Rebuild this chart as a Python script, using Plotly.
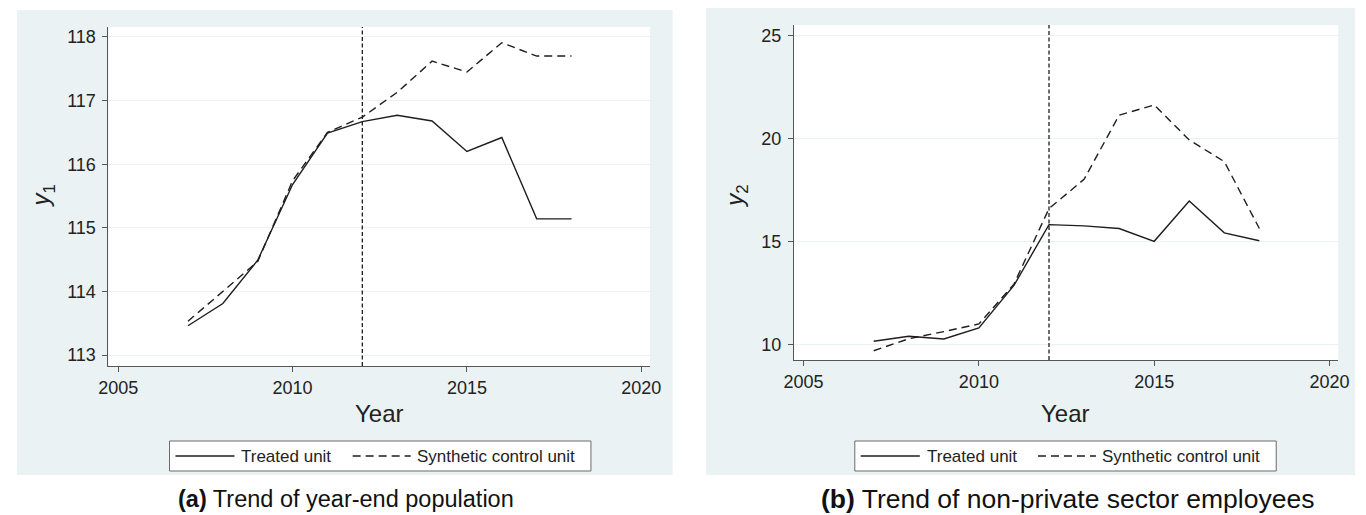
import plotly.graph_objects as go

# Data: synthetic control comparison (treatment year 2012)
years = [2007, 2008, 2009, 2010, 2011, 2012, 2013, 2014, 2015, 2016, 2017, 2018]
y1_treated = [113.46, 113.81, 114.49, 115.68, 116.49, 116.67, 116.77, 116.68, 116.20, 116.42, 115.14, 115.14]
y1_synth = [113.53, 114.00, 114.47, 115.74, 116.50, 116.74, 117.13, 117.62, 117.45, 117.91, 117.70, 117.70]
y2_treated = [10.18, 10.42, 10.29, 10.83, 12.89, 15.84, 15.78, 15.65, 15.03, 16.99, 15.44, 15.06]
y2_synth = [9.72, 10.30, 10.65, 11.02, 12.95, 16.62, 18.04, 21.15, 21.65, 19.95, 18.90, 15.65]
treat_year = 2012
x_ticks = [2005, 2010, 2015, 2020]
y1_ticks = [113, 114, 115, 116, 117, 118]
y2_ticks = [10, 15, 20, 25]
legend_labels = ["Treated unit", "Synthetic control unit"]
captions = [("(a)", "Trend of year-end population"), ("(b)", "Trend of non-private sector employees")]

W, H = 1366, 515
FONT = "Liberation Sans, Arial, sans-serif"
BG = "#eaf2f3"
INK = "#1e1e1e"
TXT = "#222222"
DASH_SYN = "8px,5px"
DASH_VLINE = "4px,2.5px"


def px(x):
    return x / W


def py(y):
    return 1 - y / H


fig = go.Figure()

panels = [
    dict(xa="x", ya="y", treated=y1_treated, synth=y1_synth),
    dict(xa="x2", ya="y2", treated=y2_treated, synth=y2_synth),
]
for p in panels:
    fig.add_trace(go.Scatter(x=years, y=p["treated"], mode="lines", xaxis=p["xa"], yaxis=p["ya"],
                             line=dict(color=INK, width=1.4), showlegend=False, name=legend_labels[0]))
    fig.add_trace(go.Scatter(x=years, y=p["synth"], mode="lines", xaxis=p["xa"], yaxis=p["ya"],
                             line=dict(color=INK, width=1.4, dash=DASH_SYN), showlegend=False,
                             name=legend_labels[1]))

axis_common = dict(
    showline=True, linecolor="#555555", linewidth=1, ticks="outside", ticklen=5, tickcolor="#555555",
    tickwidth=1, tickfont=dict(family=FONT, size=18, color=TXT), zeroline=False, mirror=False,
)

fig.update_layout(
    width=W, height=H, margin=dict(l=0, r=0, t=0, b=0),
    paper_bgcolor="white", plot_bgcolor="rgba(0,0,0,0)",
    showlegend=False,
    xaxis=dict(domain=[px(100), px(650)], range=[2004.72, 2020.25], tickvals=x_ticks, showgrid=False,
               anchor="y", **axis_common),
    yaxis=dict(domain=[py(366), py(27)], range=[112.827, 118.157], tickvals=y1_ticks, showgrid=True,
               gridcolor=BG, gridwidth=1, anchor="x", ticklabelstandoff=3, **axis_common),
    xaxis2=dict(domain=[px(796), px(1349)], range=[2004.72, 2020.25], tickvals=x_ticks, showgrid=False,
                anchor="y2", **axis_common),
    yaxis2=dict(domain=[py(360), py(25)], range=[9.27, 25.53], tickvals=y2_ticks, showgrid=True,
                gridcolor=BG, gridwidth=1, anchor="x2", ticklabelstandoff=3, **axis_common),
)

shapes = []
# graph region backgrounds
shapes.append(dict(type="rect", xref="paper", yref="paper", x0=px(7), x1=px(673), y0=py(475), y1=py(10),
                   fillcolor=BG, line=dict(width=0), layer="below"))
shapes.append(dict(type="rect", xref="paper", yref="paper", x0=px(707), x1=px(1366), y0=py(475), y1=py(8),
                   fillcolor=BG, line=dict(width=0), layer="below"))
# white plot regions and the treatment-year reference line
for xa, ya in [("x", "y"), ("x2", "y2")]:
    shapes.append(dict(type="rect", xref=f"{xa} domain", yref=f"{ya} domain", x0=0, x1=1, y0=0, y1=1,
                       fillcolor="white", line=dict(width=0), layer="below"))
    shapes.append(dict(type="line", xref=xa, yref=f"{ya} domain", x0=treat_year, x1=treat_year, y0=0, y1=1,
                       line=dict(color=INK, width=1.3, dash=DASH_VLINE), layer="above"))

annotations = []
# legend boxes drawn below each graph
for off in [0, 696]:
    shapes.append(dict(type="rect", xref="paper", yref="paper", x0=px(162 + off), x1=px(590 + off),
                       y0=py(471), y1=py(441), fillcolor="white", line=dict(color="#6b6b6b", width=1)))
    shapes.append(dict(type="line", xref="paper", yref="paper", x0=px(168 + off), x1=px(228 + off),
                       y0=py(456), y1=py(456), line=dict(color=INK, width=1.4)))
    shapes.append(dict(type="line", xref="paper", yref="paper", x0=px(348 + off), x1=px(407 + off),
                       y0=py(456), y1=py(456), line=dict(color=INK, width=1.4, dash=DASH_SYN)))
    annotations.append(dict(xref="paper", yref="paper", x=px(233 + off), y=py(456), text=legend_labels[0],
                            showarrow=False, xanchor="left", yanchor="middle",
                            font=dict(family=FONT, size=17, color=TXT)))
    annotations.append(dict(xref="paper", yref="paper", x=px(411 + off), y=py(456), text=legend_labels[1],
                            showarrow=False, xanchor="left", yanchor="middle",
                            font=dict(family=FONT, size=17, color=TXT)))

# axis titles
for cx in [375, 1072]:
    annotations.append(dict(xref="paper", yref="paper", x=px(cx), y=py(413), text="Year", showarrow=False,
                            xanchor="center", yanchor="middle", font=dict(family=FONT, size=24, color=TXT)))
for cx, cy, sub in [(34, 196, "1"), (738, 196, "2")]:
    annotations.append(dict(xref="paper", yref="paper", x=px(cx), y=py(cy), text=f"<i>y</i><sub>{sub}</sub>",
                            showarrow=False, textangle=-90, xanchor="center", yanchor="middle",
                            font=dict(family=FONT, size=24, color=TXT)))

# captions
for cx, size, (tag, txt) in zip([341, 1074], [23.5, 26.5], captions):
    annotations.append(dict(xref="paper", yref="paper", x=px(cx), y=py(499), text=f"<b>{tag}</b> {txt}",
                            showarrow=False, xanchor="center", yanchor="middle",
                            font=dict(family=FONT, size=size, color="#111111")))

fig.update_layout(shapes=shapes, annotations=annotations)
fig.write_html("out.html")
